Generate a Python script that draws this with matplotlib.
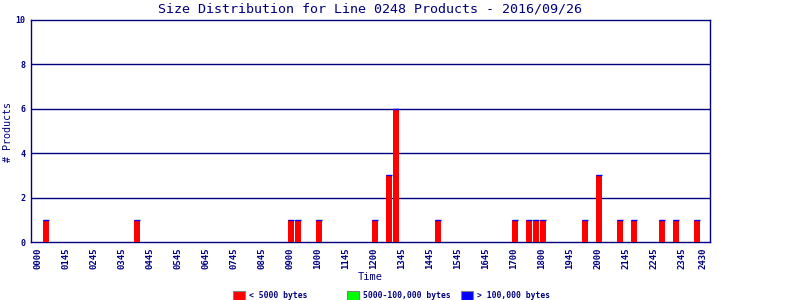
import matplotlib
matplotlib.use("Agg")
import matplotlib.pyplot as plt
from matplotlib.patches import Rectangle
import numpy as np

title = "Size Distribution for Line 0248 Products - 2016/09/26"
tick_labels = ['0000', '0145', '0245', '0345', '0445', '0545', '0645', '0745',
               '0845', '0900', '1000', '1145', '1200', '1345', '1445', '1545',
               '1645', '1700', '1800', '1945', '2000', '2145', '2245', '2345', '2430']
tick_slots = [0, 4, 8, 12, 16, 20, 24, 28, 32, 36, 40, 44, 48, 52, 56, 60,
              64, 68, 72, 76, 80, 84, 88, 92, 95]
bar_slots = [1, 14, 36, 37, 40, 48, 50, 51, 57, 68, 70, 71, 72, 78, 80, 83, 85, 89, 91, 94]
small_counts = [1, 1, 1, 1, 1, 1, 3, 6, 1, 1, 1, 1, 1, 1, 3, 1, 1, 1, 1, 1]
medium_counts = [0] * 20
large_counts = [0] * 20
series_names = ['< 5000 bytes', '5000-100,000 bytes', '> 100,000 bytes']
series_colors = ['#ff0000', '#00ff00', '#0000ff']

navy = '#000080'
mono = 'DejaVu Sans Mono'

fig = plt.figure(figsize=(8, 3), dpi=100)
ax = fig.add_axes([31/800, 1-242/300, (710-31)/800, (242-20)/300])

x = np.array(bar_slots) + 0.18
s = np.array(small_counts, float)
m = np.array(medium_counts, float)
l = np.array(large_counts, float)
w = 0.86
ax.bar(x, s, width=w, color=series_colors[0], linewidth=0, zorder=3)
ax.bar(x, m, bottom=s, width=w, color=series_colors[1], linewidth=0, zorder=3)
ax.bar(x, l, bottom=s + m, width=w, color=series_colors[2],
       edgecolor=series_colors[2], linewidth=1.0, zorder=4)

ax.set_xlim(-0.96, 96.04)
ax.set_ylim(0, 10)
ax.set_yticks([0, 2, 4, 6, 8, 10])
ax.set_yticklabels(['0', '2', '4', '6', '8', '10'], fontsize=6, family=mono,
                   color=navy, fontweight='bold')
ax.set_xticks(tick_slots)
ax.set_xticklabels(tick_labels, rotation=90, fontsize=6.5, family=mono,
                   color=navy, fontweight='bold')
ax.tick_params(length=0, pad=4)
for y in [2, 4, 6, 8]:
    ax.axhline(y, color=navy, linewidth=1.0, zorder=1)
for sp in ax.spines.values():
    sp.set_color(navy)
    sp.set_linewidth(1.0)
ax.spines['right'].set_visible(True)

fig.text(370.5/800, 1-9/300, title, ha='center', va='center', fontsize=9.6,
         family=mono, color=navy)
fig.text(8/800, 1-132/300, '# Products', rotation=90, ha='center', va='center',
         fontsize=7.2, family=mono, color=navy)
fig.text(370/800, 1-277/300, 'Time', ha='center', va='center', fontsize=7.5,
         family=mono, color=navy)

box_x = [233, 347, 461]
for bx, name, col in zip(box_x, series_names, series_colors):
    fig.patches.append(Rectangle((bx/800, 1-300/300 + 0.5/300), 12/800, 9/300,
                                 transform=fig.transFigure, facecolor=col,
                                 edgecolor='#808080', linewidth=0.8))
    fig.text((bx + 16)/800, 1-295.5/300, name, ha='left', va='center',
             fontsize=5.8, family=mono, color=navy, fontweight='bold')

fig.savefig('out.png', dpi=100, facecolor='white')
